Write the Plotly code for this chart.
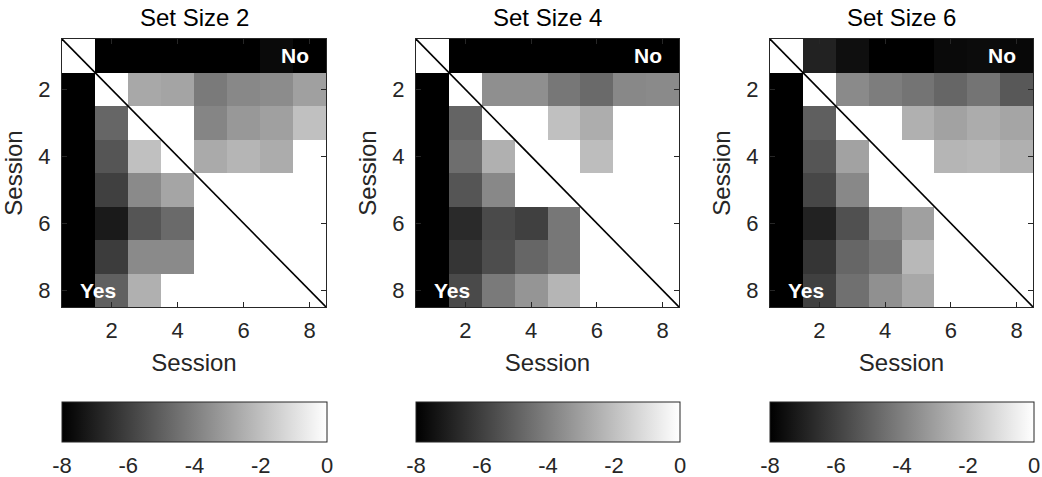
import plotly.graph_objects as go

sessions = [1, 2, 3, 4, 5, 6, 7, 8]
titles = ["Set Size 2", "Set Size 4", "Set Size 6"]
cbar_ticks = [-8, -6, -4, -2, 0]
N = None

ss2 = [
    [N, -8, -8, -8, -8, -8, -7.7, -8],
    [-8, N, -2.73, -2.85, -4.17, -3.73, -3.61, -2.98],
    [-8, -4.8, N, N, -3.83, -3.23, -2.98, -1.98],
    [-8, -5.33, -1.98, N, -2.67, -2.32, -2.6, N],
    [-8, -5.99, -3.67, -2.82, N, N, N, N],
    [-8, -7.18, -5.33, -4.67, N, N, N, N],
    [-8, -6.12, -3.67, -3.67, N, N, N, N],
    [-8, -4.99, -2.48, N, N, N, N, N],
]
ss4 = [
    [N, -8, -8, -8, -8, -8, -8, -8],
    [-8, N, -3.51, -3.51, -4.27, -4.67, -3.73, -3.67],
    [-8, -4.86, N, N, -1.98, -2.57, N, N],
    [-8, -4.55, -2.48, N, N, -2.07, N, N],
    [-8, -5.33, -3.73, N, N, N, N, N],
    [-8, -6.68, -5.68, -5.99, -4.27, N, N, N],
    [-8, -6.34, -5.58, -4.8, -4.27, N, N, N],
    [-8, -5.68, -4.17, -3.33, -2.32, N, N, N],
]
ss6 = [
    [N, -6.93, -7.53, -8, -8, -7.69, -7.62, -7.75],
    [-8, N, -3.67, -4.08, -4.36, -4.8, -4.36, -5.24],
    [-8, -5.02, N, N, -2.48, -2.92, -2.6, -2.82],
    [-8, -5.33, -2.92, N, N, -2.32, -2.23, -2.48],
    [-8, -5.77, -3.73, N, N, N, N, N],
    [-8, -6.93, -5.49, -3.92, -2.98, N, N, N],
    [-8, -6.34, -4.8, -4.27, -2.23, N, N, N],
    [-8, -5.99, -4.49, -3.48, -2.73, N, N, N],
]
matrices = [ss2, ss4, ss6]

W, H = 1042, 477
x_px = [(62, 326), (416, 679), (770, 1033)]
y_px = (39, 307)
cb_top = 402
ink = "#262626"
font = "Liberation Sans, Arial, sans-serif"

fig = go.Figure()
for i, (z, title) in enumerate(zip(matrices, titles)):
    sfx = "" if i == 0 else str(i + 1)
    ca = "coloraxis" + sfx
    fig.add_trace(go.Heatmap(
        z=z, x=sessions, y=sessions, coloraxis=ca,
        xaxis="x" + sfx, yaxis="y" + sfx, hoverongaps=False,
    ))
    # diagonal line
    fig.add_trace(go.Scatter(
        x=[0.5, 8.5], y=[0.5, 8.5], mode="lines",
        line=dict(color="black", width=1.6), showlegend=False,
        xaxis="x" + sfx, yaxis="y" + sfx, hoverinfo="skip",
    ))
    x0, x1 = x_px[i]
    common = dict(
        showline=True, linecolor=ink, linewidth=1, mirror="ticks",
        ticks="inside", ticklen=5, tickcolor=ink, tickwidth=1,
        tickvals=[2, 4, 6, 8], showgrid=False, zeroline=False,
        tickfont=dict(size=22, color=ink, family=font),
        automargin=False,
    )
    fig.layout["xaxis" + sfx] = dict(
        domain=[x0 / W, x1 / W], range=[0.5, 8.5], anchor="y" + sfx,
        title=dict(text="Session", font=dict(size=24, color=ink, family=font), standoff=11),
        ticklabelstandoff=4,
        **common,
    )
    fig.layout["yaxis" + sfx] = dict(
        domain=[1 - y_px[1] / H, 1 - y_px[0] / H], range=[8.5, 0.5], anchor="x" + sfx,
        title=dict(text="Session", font=dict(size=24, color=ink, family=font), standoff=8),
        ticklabelstandoff=6,
        **common,
    )
    fig.layout[ca] = dict(
        cmin=-8, cmax=0, colorscale=[[0, "black"], [1, "white"]],
        colorbar=dict(
            orientation="h", x=x0 / W, xanchor="left", y=1 - cb_top / H, yanchor="top",
            len=x1 - x0 + 1, lenmode="pixels", thickness=40, thicknessmode="pixels",
            xpad=0, ypad=0, outlinecolor=ink, outlinewidth=1,
            tickvals=cbar_ticks, ticktext=[str(t) for t in cbar_ticks],
            ticks="outside", ticklen=5, tickcolor="rgba(0,0,0,0)",
            tickfont=dict(size=22, color=ink, family=font),
        ),
    )
    fig.add_annotation(
        x=(x0 + x1) / 2 / W, y=1 - 18 / H, xref="paper", yref="paper",
        xanchor="center", yanchor="middle",
        text=title, showarrow=False, font=dict(size=24, color="black", family=font),
    )
    fig.add_annotation(
        x=7.55, y=1.0, xref="x" + sfx, yref="y" + sfx, text="<b>No</b>",
        showarrow=False, font=dict(size=21, color="white", family=font),
    )
    fig.add_annotation(
        x=1.59, y=8.02, xref="x" + sfx, yref="y" + sfx, text="<b>Yes</b>",
        showarrow=False, font=dict(size=21, color="white", family=font),
    )

fig.update_layout(
    template="none",
    width=W, height=H, margin=dict(l=0, r=0, t=0, b=0, autoexpand=False),
    paper_bgcolor="white", plot_bgcolor="white", showlegend=False,
)
fig.write_html(
    "out.html",
    config={"displayModeBar": False},
    post_script="document.body.style.margin='0px';document.body.style.overflow='hidden';",
)
